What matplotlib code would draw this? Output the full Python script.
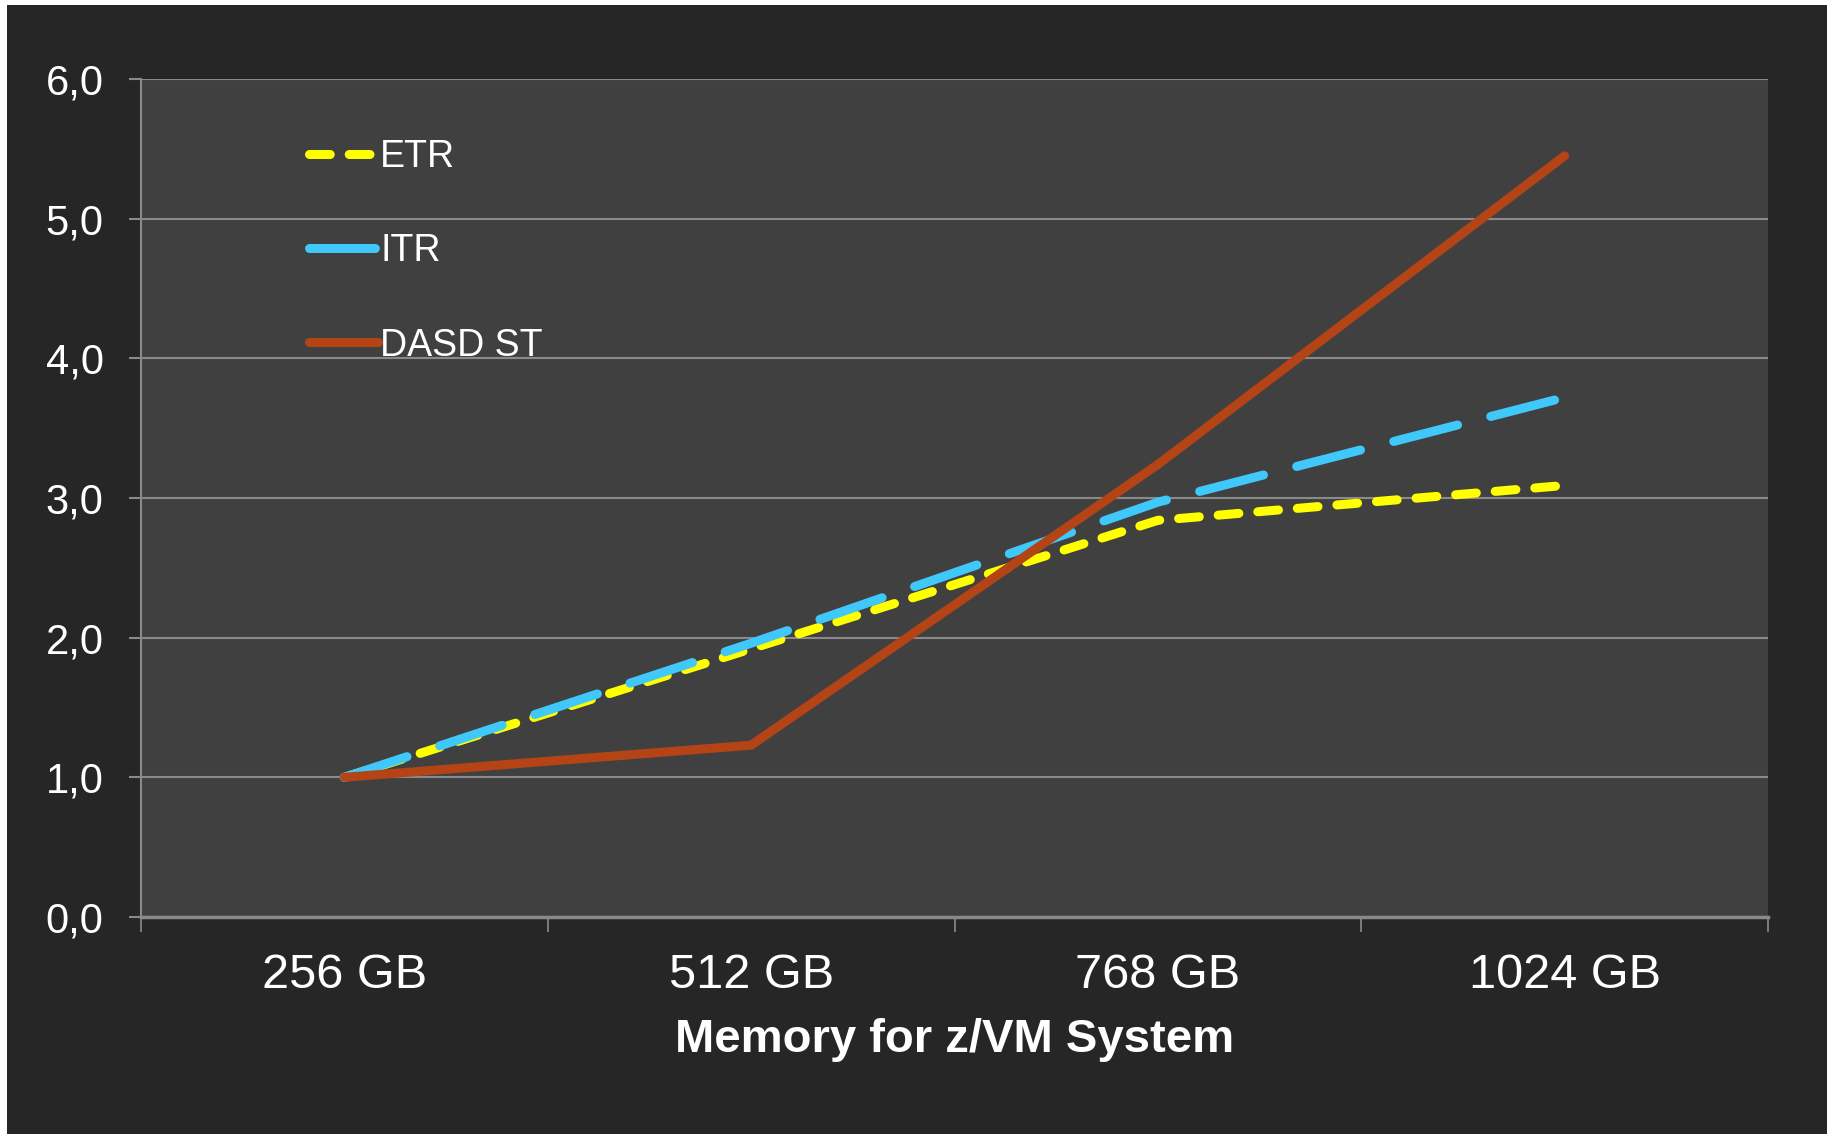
import numpy as np
import matplotlib.pyplot as plt
from matplotlib.patches import Rectangle

plt.rcParams['font.family'] = ['Liberation Sans', 'DejaVu Sans']

# relative results per memory size (256 GB = 1.0)
memory = ['256 GB', '512 GB', '768 GB', '1024 GB']
etr = [1.0, 1.92, 2.84, 3.09]
itr = [1.0, 1.96, 2.97, 3.72]
dasd_st = [1.0, 1.23, 3.24, 5.45]

BG = '#262626'
PLOT_BG = '#404040'
GRID = '#8a8a8a'

fig = plt.figure(figsize=(18.27, 11.34), dpi=100, facecolor='white')
fig.patches.append(Rectangle((7 / 1827, 0), 1, 1 - 5 / 1134, transform=fig.transFigure,
                             facecolor=BG, edgecolor='none', zorder=-10))

ax = fig.add_axes([0.0772, 0.1914, 0.8905, 0.7389])
ax.set_facecolor(PLOT_BG)

x = np.arange(len(memory))
lw = 6.5
ax.plot(x, etr, color='#FFFF00', lw=lw, dashes=(2.3, 2.1), dash_capstyle='round',
        solid_capstyle='round', label='ETR', zorder=3)
ax.plot(x, itr, color='#40C8FA', lw=lw, dashes=(7.3, 3.8), dash_capstyle='round',
        solid_capstyle='round', label='ITR', zorder=4)
ax.plot(x, dasd_st, color='#B44416', lw=lw, solid_capstyle='round',
        solid_joinstyle='round', label='DASD ST', zorder=5)

ax.set_ylim(0, 6)
ax.set_xlim(-0.5, len(memory) - 0.5)

yt = np.arange(0, 7)
ax.set_yticks(yt)
ax.set_yticklabels([f'{v:.1f}'.replace('.', ',') for v in yt])
ax.yaxis.grid(True, color=GRID, lw=1.5)
ax.set_axisbelow(True)

ax.set_xticks(np.arange(-0.5, len(memory)), labels=[])
ax.set_xticks(x, labels=memory, minor=True)
ax.tick_params(axis='x', which='major', length=11, width=1.2, color=GRID)
ax.tick_params(axis='x', which='minor', length=0, pad=26, labelsize=35, labelcolor='white')
ax.tick_params(axis='y', length=9, width=1.5, color=GRID, pad=18, labelsize=30, labelcolor='white')

for side in ['top', 'right']:
    ax.spines[side].set_visible(False)
ax.spines['left'].set_color(GRID)
ax.spines['left'].set_linewidth(1.5)
ax.spines['bottom'].set_color(GRID)
ax.spines['bottom'].set_linewidth(2.5)

ax.set_xlabel('Memory for z/VM System', fontsize=34, fontweight='bold', color='white', labelpad=14)

leg = ax.legend(loc='upper left', bbox_to_anchor=(0.094, 0.946), frameon=False, fontsize=27,
                handlelength=1.85, handletextpad=0.05, labelspacing=1.55, borderaxespad=0)
for t in leg.get_texts():
    t.set_color('white')

fig.savefig('out.png', dpi=100, facecolor=fig.get_facecolor())
